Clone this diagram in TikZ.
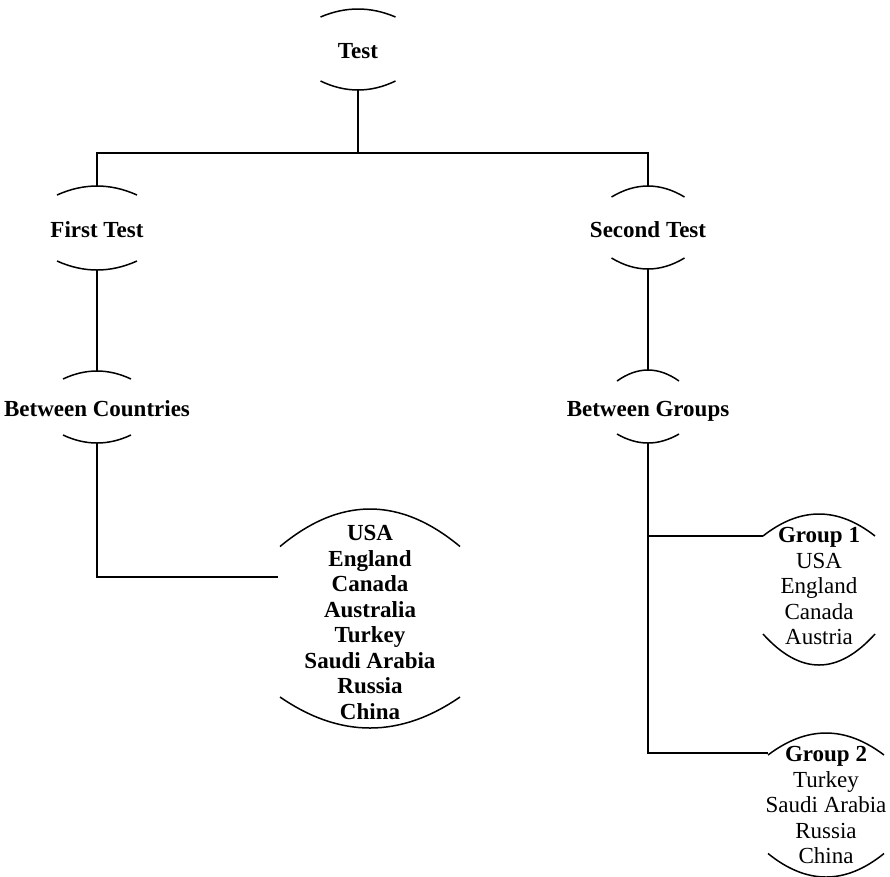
\documentclass[tikz,border=0pt]{standalone}
\usepackage{fontspec}
\setmainfont{Liberation Serif}
% #1 name, #2 cx, #3 y of top peak, #4 top sagitta, #5 y of bottom low, #6 bottom sagitta, #7 half width
\newcommand{\capnode}[7]{%
  \node[capbox, minimum width={#7*2pt}, minimum height={(#5-#3)*1pt}] (#1) at (#2,{(#3+#5)/2}) {};
  \draw[arcline] ({#2-#7},{#3+#4}) .. controls ({#2-#7/3},{#3-#4/3}) and ({#2+#7/3},{#3-#4/3}) .. ({#2+#7},{#3+#4});
  \draw[arcline] ({#2-#7},{#5-#6}) .. controls ({#2-#7/3},{#5+#6/3}) and ({#2+#7/3},{#5+#6/3}) .. ({#2+#7},{#5-#6});}
\begin{document}
\begin{tikzpicture}[x=1pt,y=-1pt,
  capbox/.style={rectangle, draw=none, inner sep=0pt, outer sep=0pt},
  arcline/.style={line width=1.5pt},
  conn/.style={line width=1.7pt},
  lbl/.style={font=\fontsize{23}{25.5}\selectfont\bfseries, align=center, inner sep=0pt},
  lblr/.style={font=\fontsize{23}{25.5}\selectfont, align=center, inner sep=0pt}]
\useasboundingbox (0,0) rectangle (890,876);

\capnode{test}{358}{9}{8}{90}{9}{37.5}
\capnode{first}{97}{186}{9}{270}{9}{40}
\capnode{bc}{97}{371}{8}{443}{8}{34}
\capnode{second}{648}{186}{11}{269}{11}{36.5}
\capnode{bg}{648}{370}{11}{443}{9}{31}
\capnode{big}{370}{509}{37.5}{728}{31}{90}
\capnode{gone}{819}{514}{22}{665}{31}{56}
\capnode{gtwo}{826}{733}{22}{877}{23.5}{58}

\node[lbl, anchor=base] (testtxt) at (358,58) {Test};
\node[lbl, anchor=base] (firsttxt) at (97,237) {First Test};
\node[lbl, anchor=base] (secondtxt) at (648,237) {Second Test};
\node[lbl, anchor=base] (bctxt) at (97,416) {Between Countries};
\node[lbl, anchor=base] (bgtxt) at (648,416) {Between Groups};
\node[lbl] (bigtxt) at (370,622.5) {USA\\England\\Canada\\Australia\\Turkey\\Saudi Arabia\\Russia\\China};
\node[lblr] (gonetxt) at (819,586) {\textbf{Group 1}\\USA\\England\\Canada\\Austria};
\node[lblr] (gtwotxt) at (826,805) {\textbf{Group 2}\\Turkey\\Saudi Arabia\\Russia\\China};

\coordinate (split) at (358,153);
\coordinate (bcend) at (278,577);
\coordinate (goneend) at (763,536);
\coordinate (gtwoend) at (768,753);

\draw[conn] (test.south) -- (split);
\draw[conn] (split) -| (first.north);
\draw[conn] (split) -| (second.north);
\draw[conn] (first.south) -- (bc.north);
\draw[conn] (second.south) -- (bg.north);
\draw[conn] (bc.south) |- (bcend);
\draw[conn] (bg.south) |- (goneend);
\draw[conn] (bg.south) |- (gtwoend);
\end{tikzpicture}
\end{document}
